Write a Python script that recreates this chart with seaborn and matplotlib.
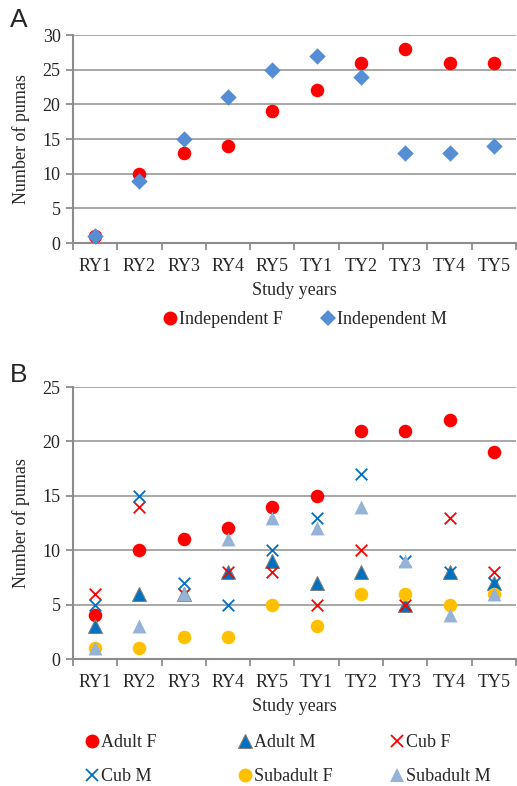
import matplotlib
matplotlib.use("Agg")
import matplotlib.pyplot as plt
from matplotlib.lines import Line2D
from matplotlib import font_manager
import seaborn as sns
import pandas as pd
import numpy as np

years = ["RY1", "RY2", "RY3", "RY4", "RY5", "TY1", "TY2", "TY3", "TY4", "TY5"]

# Panel A
indep_f = [1, 10, 13, 14, 19, 22, 26, 28, 26, 26]
indep_m = [1, 9, 15, 21, 25, 27, 24, 13, 13, 14]

# Panel B
adult_f = [4, 10, 11, 12, 14, 15, 21, 21, 22, 19]
adult_m = [3, 6, 6, 8, 9, 7, 8, 5, 8, 7]
cub_f = [6, 14, 6, 8, 8, 5, 10, 5, 13, 8]
cub_m = [5, 15, 7, 5, 10, 13, 17, 9, 8, 7]
subadult_f = [1, 1, 2, 2, 5, 3, 6, 6, 5, 6]
subadult_m = [1, 3, 6, 11, 13, 12, 14, 9, 4, 6]

sns.set_theme(style="white")
names = sorted({f.name for f in font_manager.fontManager.ttflist})
serif = [n for n in ["Liberation Serif", "Times New Roman", "Nimbus Roman", "DejaVu Serif"] if n in names]
plt.rcParams["font.family"] = "serif"
plt.rcParams["font.serif"] = serif + ["DejaVu Serif"]
FS = 13
GRID = "#A0A0A0"
SPINE = "#8C8C8C"

W, H = 517, 786
fig = plt.figure(figsize=(W / 100, H / 100), dpi=100)


def make_ax(top_px, bottom_px):
    left = 73 / W
    right = 516 / W
    return fig.add_axes([left, 1 - bottom_px / H, right - left, (bottom_px - top_px) / H])


def style_ax(ax, ymax, step):
    ax.set_xlim(-0.5, len(years) - 0.5)
    ax.set_ylim(0, ymax)
    ax.set_yticks(np.arange(0, ymax + 0.1, step))
    ax.yaxis.grid(True, color=GRID, linewidth=1.3)
    ax.set_axisbelow(True)
    for s in ["top", "right"]:
        ax.spines[s].set_visible(False)
    for s in ["left", "bottom"]:
        ax.spines[s].set_color(SPINE)
        ax.spines[s].set_linewidth(1.5)
    ax.set_xticks(np.arange(-0.5, len(years), 1.0))
    ax.set_xticklabels([])
    ax.set_xticks(np.arange(len(years)), minor=True)
    ax.set_xticklabels(years, minor=True, fontsize=FS)
    ax.tick_params(axis="x", which="major", direction="out", length=5, width=1.3, color=SPINE, bottom=True)
    ax.tick_params(axis="x", which="minor", length=0, pad=11)
    ax.tick_params(axis="y", direction="out", length=5, width=1.3, color=SPINE, left=True, labelsize=FS, pad=4)
    ax.set_xlabel("Study years", fontsize=FS, labelpad=5)
    ax.set_ylabel("Number of pumas", fontsize=FS, labelpad=9)


def scatter(ax, vals, **kw):
    df = pd.DataFrame({"year": years, "n": vals})
    df["pos"] = np.arange(len(years))
    sns.scatterplot(data=df, x="pos", y="n", ax=ax, legend=False, clip_on=False, **kw)


# ---------- Panel A ----------
axA = make_ax(35, 243)
scatter(axA, indep_f, marker="o", color="#FF0000", s=95, linewidth=0, zorder=3)
scatter(axA, indep_m, marker="D", color="#558ED5", s=70, linewidth=0, zorder=4)
style_ax(axA, 30, 5)
fig.text(10 / W, 1 - 20 / H, "A", fontsize=19, family="Liberation Sans", va="center", ha="left")

handlesA = [
    Line2D([], [], marker="o", color="none", markerfacecolor="#FF0000", markeredgewidth=0, markersize=10),
    Line2D([], [], marker="D", color="none", markerfacecolor="#558ED5", markeredgewidth=0, markersize=8.5),
]
fig.legend(handlesA, ["Independent F", "Independent M"], loc="center",
           bbox_to_anchor=(306 / W, 1 - 320 / H), ncol=2, frameon=False, fontsize=FS,
           handlelength=0.6, handletextpad=0.2, columnspacing=2.2)

# ---------- Panel B ----------
axB = make_ax(387, 659)
scatter(axB, adult_f, marker="o", color="#FF0000", s=95, linewidth=0, zorder=3)
scatter(axB, adult_m, marker="^", color="#0070C0", s=100, edgecolor="#7F7F7F", linewidth=0.8, zorder=3)
scatter(axB, cub_f, marker="x", color="#FF0000", s=70, linewidth=1.3, zorder=3)
scatter(axB, cub_m, marker="x", color="#0070C0", s=70, linewidth=1.3, zorder=3)
scatter(axB, subadult_f, marker="o", color="#FFC000", s=95, linewidth=0, zorder=3)
scatter(axB, subadult_m, marker="^", color="#95B3D7", s=100, linewidth=0, zorder=3)
style_ax(axB, 25, 5)
fig.text(10 / W, 1 - 375 / H, "B", fontsize=19, family="Liberation Sans", va="center", ha="left")


def h(marker, fc, ec="none", ms=10, mew=0):
    if marker == "x":
        return Line2D([], [], marker="x", color="none", markeredgecolor=fc, markersize=9, markeredgewidth=1.3)
    return Line2D([], [], marker=marker, color="none", markerfacecolor=fc, markeredgecolor=ec,
                  markersize=ms, markeredgewidth=mew)


hB = {
    "Adult F": h("o", "#FF0000"),
    "Adult M": h("^", "#0070C0", ec="#7F7F7F", ms=10, mew=0.8),
    "Cub F": h("x", "#FF0000"),
    "Cub M": h("x", "#0070C0"),
    "Subadult F": h("o", "#FFC000"),
    "Subadult M": h("^", "#95B3D7", ms=10),
}
columns = [["Adult F", "Cub M"], ["Adult M", "Subadult F"], ["Cub F", "Subadult M"]]
col_x = [92, 245, 397]
for labels, xm in zip(columns, col_x):
    fig.legend([hB[k] for k in labels], labels, loc="center left",
               bbox_to_anchor=((xm - 5) / W, 1 - 759.5 / H), ncol=1, frameon=False, fontsize=FS,
               handlelength=0.6, handletextpad=0.2, labelspacing=0.95,
               borderpad=0, borderaxespad=0)

fig.savefig("out.png", dpi=100)
